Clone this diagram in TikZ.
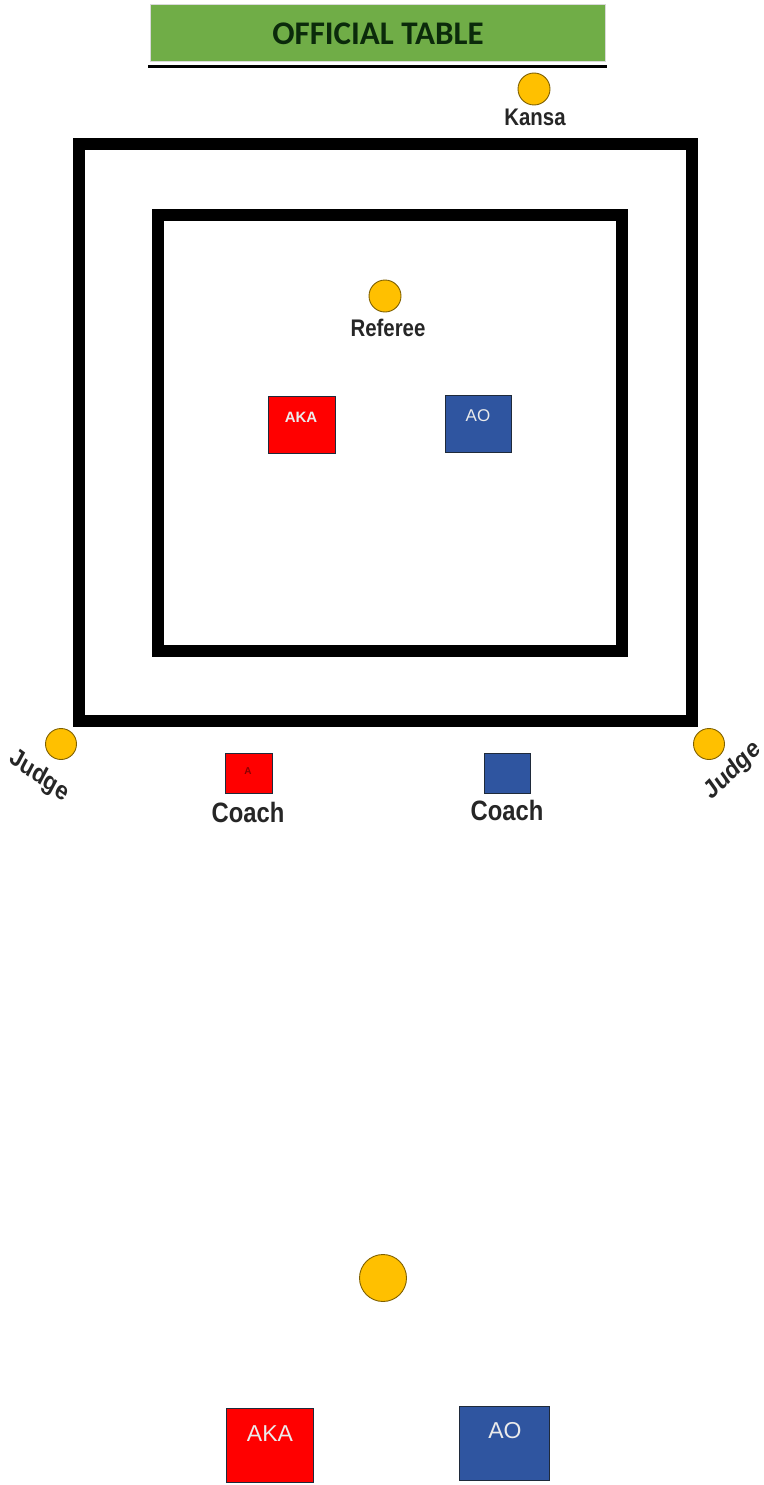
\documentclass[tikz,border=0pt]{standalone}
\usepackage{fontspec}
\setmainfont{Liberation Sans}
\newfontfamily\calib{Carlito}
\definecolor{tablegreen}{HTML}{70AD47}
\definecolor{txtgreen}{HTML}{0B2A0B}
\definecolor{gold}{HTML}{FFC000}
\definecolor{goldline}{HTML}{7F6000}
\definecolor{akared}{HTML}{FF0000}
\definecolor{aoblue}{HTML}{2F55A0}
\definecolor{boxline}{HTML}{1F2A3A}
\tikzset{
  official/.style={draw=white!85!black, fill=tablegreen, line width=1pt, minimum width=455pt, minimum height=57pt, inner sep=0pt,
    font=\calib\bfseries\fontsize{33}{33}\selectfont, text=txtgreen},
  person/.style={circle, fill=gold, draw=goldline, line width=0.9pt, minimum size=#1, inner sep=0pt},
  person/.default=32pt,
  lbl/.style={font=\bfseries\fontsize{#1}{#1}\selectfont, text=black!85, xscale=0.85, inner sep=0pt},
  lbl/.default=24,
  mat/.style={line width=12pt, draw=black},
  aka/.style={fill=akared, draw=boxline, line width=1pt},
  ao/.style={fill=aoblue, draw=boxline, line width=1pt},
  boxtxt/.style={text=white!92!black, font=\fontsize{#1}{#1}\selectfont, inner sep=0pt},
}
\begin{document}
\begin{tikzpicture}[x=1pt,y=-1pt]
\useasboundingbox[fill=white] (0,0) rectangle (763,1485);
% official table
\node[official] (table) at (378,33.5) {OFFICIAL TABLE};
\draw[line width=3pt, black] (148,67) -- (607,67);
% kansa
\node[person] (kansa) at (534,89) {};
\node[lbl] (kansalbl) at (535,117) {Kansa};
% mats
\draw[mat] (79,144) rectangle (692,721);
\draw[mat] (158,215) rectangle (622,651);
% referee
\node[person] (referee) at (385,296) {};
\node[lbl] (reflbl) at (388,328) {Referee};
% competitors
\draw[aka] (268,396) rectangle (335,453);
\node[boxtxt=15, font=\bfseries\fontsize{15}{15}\selectfont] (akatxt) at (301,417) {AKA};
\draw[ao] (445,395) rectangle (511,452);
\node[boxtxt=17] (aotxt) at (478,416) {AO};
% judges
\node[person=31pt] (judgeL) at (61,744) {};
\node[lbl=26, rotate=-32] (judgeLlbl) at (39,776) {Judge};
\node[person=31pt] (judgeR) at (709,744) {};
\node[lbl=26, rotate=40] (judgeRlbl) at (733,771) {Judge};
% coaches
\draw[aka] (225,753) rectangle (272,793);
\node[text=red!55!black, font=\bfseries\fontsize{10}{10}\selectfont, inner sep=0pt] (coachA) at (248,771) {A};
\node[lbl=28] (coachRlbl) at (248,812) {Coach};
\draw[ao] (484,753) rectangle (530,793);
\node[lbl=28] (coachBlbl) at (507,810) {Coach};
% bottom
\node[person=47pt] (bottomref) at (383,1278) {};
\draw[aka] (226,1408) rectangle (313,1482);
\node[boxtxt=23] (akabig) at (270,1434) {AKA};
\draw[ao] (459,1406) rectangle (549,1480);
\node[boxtxt=23] (aobig) at (505,1431) {AO};
\end{tikzpicture}
\end{document}
